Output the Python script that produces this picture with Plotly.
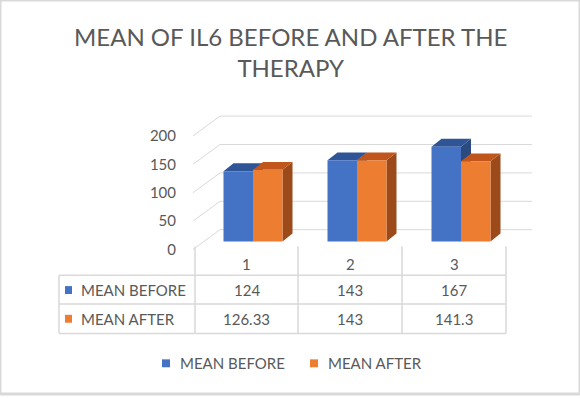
import plotly.graph_objects as go

# ---------------- data ----------------
categories = ["1", "2", "3"]
series_names = ["MEAN BEFORE", "MEAN AFTER"]
mean_before = [124, 143, 167]
mean_after = [126.33, 143, 141.3]
y_ticks = [0, 50, 100, 150, 200]
title_text = "MEAN OF IL6 BEFORE AND AFTER THE<br>THERAPY"

# ---------------- style ----------------
W, H = 580, 398
FONT = "Lato"
TXT = "#595959"
GRID = "#d9d9d9"
FRONT = ["#4472C4", "#ED7D31"]
TOP = ["#2F5597", "#C0561B"]
SIDE = ["#2A4A80", "#9C4A1A"]

PX_PER_CAT = 104.0      # pixels per category step
PX_PER_UNIT = 0.5735    # pixels per value unit
X0_PX = 253             # centre of first category (bar plane)
Y0_PX = 244             # bar baseline (bar plane)
x_dom_px = (185, 545)
y_dom_px = (100, 256)


def px_x(px):
    return px / W


def px_y(py):
    return 1 - py / H


def ux(px):  # pixel offset -> x units
    return px / PX_PER_CAT


def uy(px):  # pixel offset -> y units
    return px / PX_PER_UNIT


xr = [(x_dom_px[0] - X0_PX) / PX_PER_CAT, (x_dom_px[1] - X0_PX) / PX_PER_CAT]
yr = [(Y0_PX - y_dom_px[1]) / PX_PER_UNIT, (Y0_PX - y_dom_px[0]) / PX_PER_UNIT]

bar_w = ux(29.5)
depth_dx, depth_dy = ux(10), uy(8)          # bar depth
back_dx, back_dy = ux(16), uy(12)           # bar plane -> back wall
front_dx, front_dy = ux(-11), uy(-8)        # bar plane -> front edge
plane_l, plane_r = ux(204 - X0_PX), ux(516 - X0_PX)

series = [mean_before, mean_after]
offsets = [-bar_w, 0.0]
xs = list(range(len(categories)))

fig = go.Figure()
for name, vals, off, col in zip(series_names, series, offsets, FRONT):
    fig.add_trace(go.Bar(
        x=xs, y=vals, name=name, width=bar_w, offset=off,
        marker=dict(color=col, line=dict(width=0)),
        hoverinfo="skip", showlegend=False,
    ))

shapes = []
# back wall gridlines and side-wall diagonals
for t in y_ticks:
    shapes.append(dict(type="line", xref="x", yref="y", layer="below",
                       x0=plane_l + back_dx, y0=t + back_dy,
                       x1=plane_r + back_dx, y1=t + back_dy,
                       line=dict(color=GRID, width=1)))
    shapes.append(dict(type="line", xref="x", yref="y", layer="below",
                       x0=plane_l + back_dx, y0=t + back_dy,
                       x1=plane_l + front_dx, y1=t + front_dy,
                       line=dict(color=GRID, width=1)))


def poly(pts):
    return "M " + " L ".join(f"{a},{b}" for a, b in pts) + " Z"


# 3D faces (drawn per category, blue first then orange)
for i in xs:
    for s, vals in enumerate(series):
        v = vals[i]
        x0 = i + offsets[s]
        x1 = x0 + bar_w
        shapes.append(dict(type="path", xref="x", yref="y", layer="below",
                           path=poly([(x1, 0), (x1 + depth_dx, depth_dy),
                                      (x1 + depth_dx, v + depth_dy), (x1, v)]),
                           fillcolor=SIDE[s], line=dict(width=0)))
        shapes.append(dict(type="path", xref="x", yref="y", layer="below",
                           path=poly([(x0, v), (x0 + depth_dx, v + depth_dy),
                                      (x1 + depth_dx, v + depth_dy), (x1, v)]),
                           fillcolor=TOP[s], line=dict(width=0)))

# ---------------- data table ----------------
col_x = [59, 195, 298, 402, 506]
row_y = [249, 278, 307, 337]
tline = dict(color=GRID, width=1.5)
for cx in col_x[1:]:
    shapes.append(dict(type="line", xref="paper", yref="paper",
                       x0=px_x(cx), x1=px_x(cx), y0=px_y(row_y[0]), y1=px_y(row_y[-1]),
                       line=tline))
shapes.append(dict(type="line", xref="paper", yref="paper",
                   x0=px_x(col_x[0]), x1=px_x(col_x[0]), y0=px_y(row_y[1]), y1=px_y(row_y[-1]),
                   line=tline))
for ry in row_y[1:]:
    shapes.append(dict(type="line", xref="paper", yref="paper",
                       x0=px_x(col_x[0]), x1=px_x(col_x[-1]), y0=px_y(ry), y1=px_y(ry),
                       line=tline))

annotations = []
FS = 15
tfont = dict(family=FONT, size=FS, color=TXT)
for j, c in enumerate(categories):
    annotations.append(dict(xref="paper", yref="paper", showarrow=False,
                            x=px_x((col_x[j + 1] + col_x[j + 2]) / 2), y=px_y(267),
                            xanchor="center", yanchor="middle", text=c, font=tfont))
row_centres = [293, 322]
for s, (name, vals) in enumerate(zip(series_names, series)):
    yc = row_centres[s]
    shapes.append(dict(type="rect", xref="paper", yref="paper",
                       x0=px_x(65), x1=px_x(72), y0=px_y(yc + 4), y1=px_y(yc - 4),
                       fillcolor=FRONT[s], line=dict(width=0)))
    annotations.append(dict(xref="paper", yref="paper", showarrow=False,
                            x=px_x(79), y=px_y(yc), xanchor="left", yanchor="middle",
                            text=name, font=tfont))
    for j, v in enumerate(vals):
        annotations.append(dict(xref="paper", yref="paper", showarrow=False,
                                x=px_x((col_x[j + 1] + col_x[j + 2]) / 2), y=px_y(yc),
                                xanchor="center", yanchor="middle",
                                text=f"{v:g}", font=tfont))

# ---------------- legend (bottom) ----------------
legend_marker_x = [162, 310]
LEG_Y = 367
for s, name in enumerate(series_names):
    mx = legend_marker_x[s]
    shapes.append(dict(type="rect", xref="paper", yref="paper",
                       x0=px_x(mx), x1=px_x(mx + 8), y0=px_y(LEG_Y + 4), y1=px_y(LEG_Y - 4),
                       fillcolor=FRONT[s], line=dict(width=0)))
    annotations.append(dict(xref="paper", yref="paper", showarrow=False,
                            x=px_x(mx + 16), y=px_y(LEG_Y), xanchor="left", yanchor="middle",
                            text=name, font=tfont))

# title
annotations.append(dict(xref="paper", yref="paper", showarrow=False,
                        x=0.5, y=px_y(53), xanchor="center", yanchor="middle",
                        text=title_text, font=dict(family=FONT, size=24, color=TXT)))

# outer border
shapes.append(dict(type="rect", xref="paper", yref="paper", x0=0, x1=1, y0=0, y1=1,
                   line=dict(color=GRID, width=3)))

fig.update_layout(
    width=W, height=H, autosize=False,
    margin=dict(l=0, r=0, t=0, b=0),
    paper_bgcolor="white", plot_bgcolor="white",
    barmode="overlay",
    xaxis=dict(domain=[px_x(x_dom_px[0]), px_x(x_dom_px[1])], range=xr,
               visible=False, fixedrange=True),
    yaxis=dict(domain=[px_y(y_dom_px[1]), px_y(y_dom_px[0])], range=yr,
               tickvals=y_ticks, showgrid=False, zeroline=False, showline=False,
               ticks="", ticklabelshift=8, ticklabelstandoff=8,
               tickfont=tfont, fixedrange=True),
    showlegend=False,
    shapes=shapes,
    annotations=annotations,
)

fig.write_html("out.html", config={"displayModeBar": False},
               post_script="document.body.style.margin='0';")
